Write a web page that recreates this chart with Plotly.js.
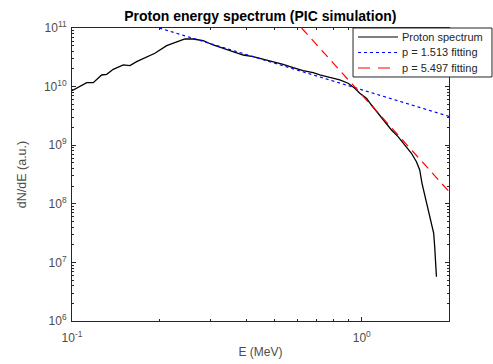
<!DOCTYPE html>
<html>
<head>
<meta charset="utf-8">
<script src="https://cdn.plot.ly/plotly-3.0.1.min.js"></script>
<style>html,body{margin:0;padding:0;background:#fff;}#chart{width:493px;height:364px;}</style>
</head>
<body>
<div id="chart"></div>
<script>
// Proton spectrum
const energy = [0.1, 0.1038, 0.1124, 0.1184, 0.1266, 0.1317, 0.1388, 0.1503, 0.1585, 0.1671,
  0.1858, 0.1932, 0.2122, 0.2296, 0.2453, 0.2620, 0.2836, 0.3070, 0.3323, 0.3599,
  0.3897, 0.4218, 0.4567, 0.4943, 0.5354, 0.5796, 0.6274, 0.6795, 0.7164, 0.7757,
  0.8397, 0.8970, 0.9460, 0.9842, 1.038, 1.080, 1.138, 1.200, 1.266, 1.334,
  1.426, 1.484, 1.544, 1.585, 1.614, 1.649, 1.680, 1.716, 1.747, 1.771,
  1.785, 1.800, 1.810];
const spectrum = [8.51e9, 9.36e9, 1.167e10, 1.167e10, 1.578e10, 1.622e10, 1.972e10, 2.339e10, 2.276e10, 2.661e10,
  3.46e10, 3.70e10, 4.99e10, 5.84e10, 6.49e10, 6.49e10, 6.07e10, 5.13e10, 4.51e10, 3.94e10,
  3.46e10, 3.24e10, 2.96e10, 2.66e10, 2.40e10, 2.10e10, 1.87e10, 1.73e10, 1.58e10, 1.44e10,
  1.30e10, 1.14e10, 9.36e9, 7.69e9, 6.31e9, 4.85e9, 3.50e9, 2.52e9, 1.82e9, 1.40e9,
  9.42e8, 7.28e8, 5.23e8, 3.78e8, 2.24e8, 1.41e8, 1.02e8, 6.44e7, 4.35e7, 3.14e7,
  1.85e7, 9.66e6, 5.70e6];
// Fitting lines (endpoints)
const fit1E = [0.2, 2.0];
const fit1N = [1.0e11, 3.1e9];
const fit2E = [0.62, 2.0];
const fit2N = [1.0e11, 1.62e8];
const seriesNames = ['Proton spectrum', 'p = 1.513 fitting', 'p = 5.497 fitting'];
const seriesColors = ['#000000', '#0000ff', '#ff0000'];
const seriesDash = ['solid', 'dot', '9px,6px'];
// Tick labels
const xTickVals = [0.1, 1];
const xTickText = ['10<sup>-1</sup>', '10<sup>0</sup>'];
const yTickVals = [1e6, 1e7, 1e8, 1e9, 1e10, 1e11];
const yTickText = ['10<sup>6</sup>', '10<sup>7</sup>', '10<sup>8</sup>', '10<sup>9</sup>', '10<sup>10</sup>', '10<sup>11</sup>'];

// minor tick positions (2..9 within each decade)
function minorTicks(lo, hi) {
  const out = [];
  for (let d = lo; d < hi; d++) {
    for (let m = 2; m <= 9; m++) out.push(m * Math.pow(10, d));
  }
  return out;
}
const xMinor = minorTicks(-1, 1).filter(v => v <= 2);
const yMinor = minorTicks(6, 11);

const FONT = 'Liberation Sans, Arial, Helvetica, sans-serif';
const AX = '#262626';
const LBL = '#4d4d4d';

const traces = [
  {x: energy, y: spectrum, mode: 'lines', name: seriesNames[0], line: {color: seriesColors[0], width: 1.3, dash: seriesDash[0]}},
  {x: fit1E, y: fit1N, mode: 'lines', name: seriesNames[1], line: {color: seriesColors[1], width: 1.2, dash: seriesDash[1]}},
  {x: fit2E, y: fit2N, mode: 'lines', name: seriesNames[2], line: {color: seriesColors[2], width: 1.2, dash: seriesDash[2]}},
  {x: [], y: [], xaxis: 'x2', yaxis: 'y2', mode: 'lines', showlegend: false, hoverinfo: 'skip'}
];

const xRange = [-1, Math.log10(2)];
const yRange = [6, 11];

const layout = {
  width: 493, height: 364,
  margin: {l: 72, r: 44, t: 28, b: 43, autoexpand: false},
  paper_bgcolor: '#ffffff', plot_bgcolor: '#ffffff',
  font: {family: FONT, size: 11, color: AX},
  showlegend: false,
  title: {text: '<b>Proton energy spectrum (PIC simulation)</b>', x: 0.528, xanchor: 'center', y: 0.955, yanchor: 'middle',
    font: {family: FONT, size: 14, color: '#000000'}},
  xaxis: {
    type: 'log', range: xRange, tickmode: 'array', tickvals: xTickVals, ticktext: xTickText,
    showline: true, linecolor: AX, linewidth: 1, mirror: 'ticks',
    ticks: 'inside', ticklen: 4, tickcolor: AX, showgrid: false, zeroline: false, automargin: false,
    ticklabelstandoff: 6, tickfont: {family: FONT, size: 12, color: LBL},
    title: {text: 'E (MeV)', standoff: 3, font: {family: FONT, size: 12, color: LBL}}
  },
  yaxis: {
    type: 'log', range: yRange, tickmode: 'array', tickvals: yTickVals, ticktext: yTickText,
    showline: true, linecolor: AX, linewidth: 1, mirror: 'ticks',
    ticks: 'inside', ticklen: 4, tickcolor: AX, showgrid: false, zeroline: false, automargin: false,
    ticklabelstandoff: 2, tickfont: {family: FONT, size: 12, color: LBL},
    title: {text: 'dN/dE (a.u.)', standoff: 14, font: {family: FONT, size: 12.5, color: LBL}}
  },
  xaxis2: {
    type: 'log', range: xRange, overlaying: 'x', anchor: 'y2', side: 'bottom',
    tickmode: 'array', tickvals: xMinor, showticklabels: false,
    ticks: 'inside', ticklen: 2, tickcolor: AX, mirror: 'ticks', showline: false,
    showgrid: false, zeroline: false, automargin: false
  },
  yaxis2: {
    type: 'log', range: yRange, overlaying: 'y', anchor: 'x2', side: 'left',
    tickmode: 'array', tickvals: yMinor, showticklabels: false,
    ticks: 'inside', ticklen: 2, tickcolor: AX, mirror: 'ticks', showline: false,
    showgrid: false, zeroline: false, automargin: false
  },
  shapes: [],
  annotations: []
};

// Legend box (drawn with paper-referenced shapes and text)
const lg = {x0: 0.7454, x1: 1.114, y0: 0.8328, y1: 1.0, rows: [0.9693, 0.9164, 0.8635], s0: 0.7586, s1: 0.8647, tx: 0.8700};
layout.shapes.push({type: 'rect', xref: 'paper', yref: 'paper', x0: lg.x0, x1: lg.x1, y0: lg.y0, y1: lg.y1,
  fillcolor: '#ffffff', line: {color: AX, width: 1}, layer: 'above'});
seriesNames.forEach((name, i) => {
  layout.shapes.push({type: 'line', xref: 'paper', yref: 'paper', x0: lg.s0, x1: lg.s1, y0: lg.rows[i], y1: lg.rows[i],
    line: {color: seriesColors[i], width: 1.2, dash: i === 2 ? '12px,8px' : seriesDash[i]}, layer: 'above'});
  layout.annotations.push({xref: 'paper', yref: 'paper', x: lg.tx, y: lg.rows[i], xanchor: 'left', yanchor: 'middle',
    text: name, showarrow: false, font: {family: FONT, size: 11, color: AX}});
});

Plotly.newPlot('chart', traces, layout, {staticPlot: true, displayModeBar: false});
</script>
</body>
</html>
